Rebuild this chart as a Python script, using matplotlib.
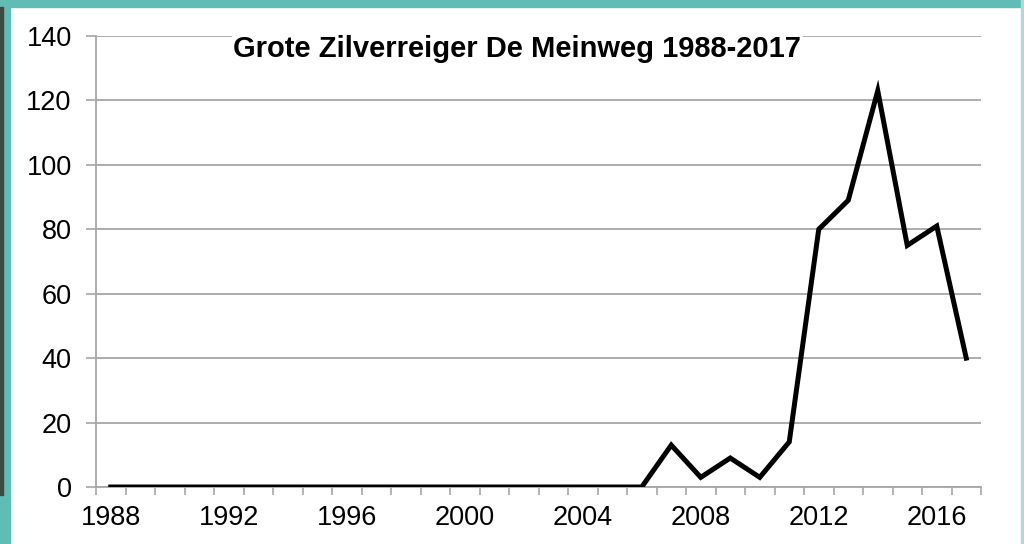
import matplotlib.pyplot as plt
from matplotlib.patches import Rectangle
from matplotlib.ticker import FixedLocator

plt.rcParams["font.family"] = ["Liberation Sans", "DejaVu Sans"]

# Data: counts per year
years = list(range(1988, 2018))
counts = [0] * 19 + [13, 3, 9, 3, 14, 80, 89, 123, 75, 81, 40]
label_years = [1988, 1992, 1996, 2000, 2004, 2008, 2012, 2016]
y_ticks = [0, 20, 40, 60, 80, 100, 120, 140]

W, H = 1024, 544
fig = plt.figure(figsize=(W / 100, H / 100), dpi=100)
fig.patch.set_facecolor("white")

# teal frame from the slide
teal = "#5fbdb6"
fig.patches.append(Rectangle((0, 1 - 7 / H), 1, 7 / H, transform=fig.transFigure,
                             color=teal, zorder=0))
fig.patches.append(Rectangle((0, 0), 10 / W, 1, transform=fig.transFigure,
                             color=teal, zorder=0))
fig.patches.append(Rectangle((0, 1 - 495 / H), 3 / W, (495 - 7) / H,
                             transform=fig.transFigure, color="#3b4a42", zorder=1))
fig.patches.append(Rectangle((1 - 3 / W, 0), 3 / W, 1, transform=fig.transFigure,
                             color="#a9dcd8", zorder=0))

ax = fig.add_axes([96 / W, 1 - 487 / H, (981 - 96) / W, (487 - 36) / H])

ax.plot(years, counts, color="black", linewidth=3.6, solid_joinstyle="miter", zorder=3)

ax.set_xlim(1987.5, 2017.5)
ax.set_ylim(0, 140)
ax.set_yticks(y_ticks)
ax.set_xticks(label_years)
ax.xaxis.set_minor_locator(FixedLocator([y - 0.5 for y in years] + [2017.5]))

grid_col = "#a6a6a6"
ax.yaxis.grid(True, color=grid_col, linewidth=1.3)
ax.set_axisbelow(True)
for s in ["top", "right"]:
    ax.spines[s].set_visible(False)
for s in ["left", "bottom"]:
    ax.spines[s].set_color(grid_col)
    ax.spines[s].set_linewidth(1.3)

ax.tick_params(axis="y", length=7, width=1.2, color=grid_col, pad=10.5, labelsize=19.5)
ax.tick_params(axis="x", which="major", length=0, pad=13, labelsize=19.5)
ax.tick_params(axis="x", which="minor", length=6, width=1.2, color=grid_col)

ax.text(0.476, 1.003, "Grote Zilverreiger De Meinweg 1988-2017", transform=ax.transAxes,
        ha="center", va="top", fontsize=21, fontweight="bold",
        bbox=dict(facecolor="white", edgecolor="none", pad=1), zorder=4)

fig.savefig("out.png", dpi=100)
